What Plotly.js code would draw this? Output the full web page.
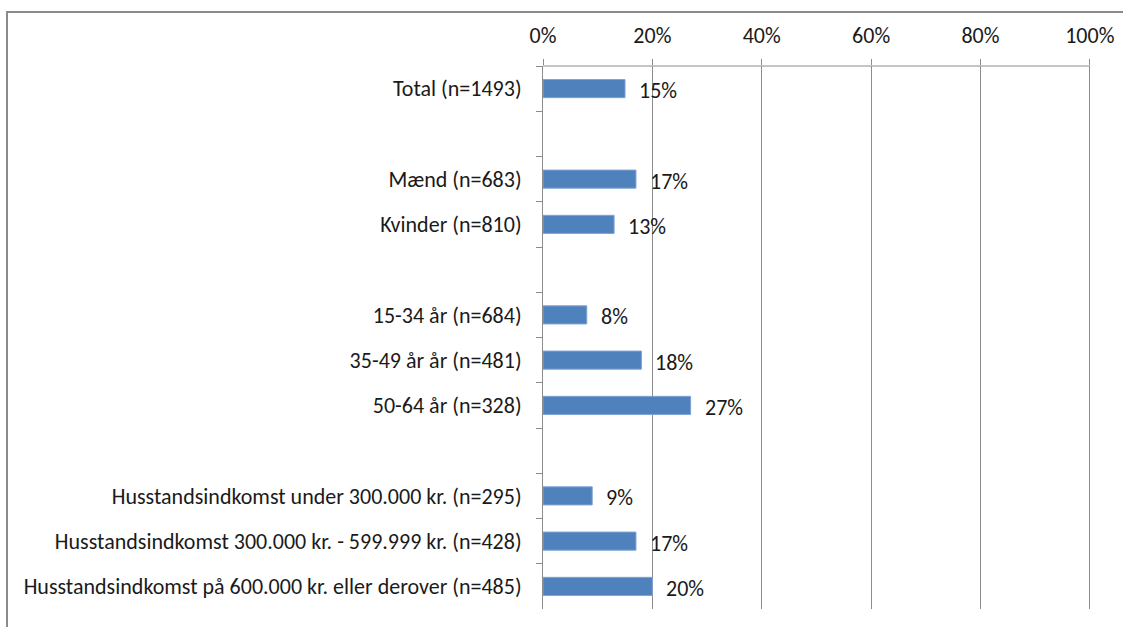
<!DOCTYPE html>
<html>
<head>
<meta charset="utf-8">
<script src="https://cdn.plot.ly/plotly-3.0.1.min.js"></script>
<style>
  html, body { margin: 0; padding: 0; background: #fff; }
  #wrap { position: relative; width: 1123px; height: 627px; overflow: hidden; }
  #chart { position: absolute; left: 0; top: 0; width: 1123px; height: 627px; }
  #frame { position: absolute; left: 6px; top: 11px; width: 1130px; height: 640px;
           border-left: 2px solid #8a8a8a; border-top: 2px solid #8a8a8a; pointer-events: none; }
</style>
</head>
<body>
<div id="wrap">
  <div id="chart"></div>
  <div id="frame"></div>
</div>
<script>
// Categories top to bottom (blank strings are spacer rows)
const categories = [
  "Total (n=1493)",
  " ",
  "Mænd (n=683)",
  "Kvinder (n=810)",
  "  ",
  "15-34 år (n=684)",
  "35-49 år år (n=481)",
  "50-64 år (n=328)",
  "   ",
  "Husstandsindkomst under 300.000 kr. (n=295)",
  "Husstandsindkomst 300.000 kr. - 599.999 kr. (n=428)",
  "Husstandsindkomst på 600.000 kr. eller derover (n=485)"
];
const values = [0.15, null, 0.17, 0.13, null, 0.08, 0.18, 0.27, null, 0.09, 0.17, 0.20];
const labels = ["15%", "", "17%", "13%", "", "8%", "18%", "27%", "", "9%", "17%", "20%"];
const xTickVals = [0, 0.2, 0.4, 0.6, 0.8, 1.0];
const xTickText = ["0%", "20%", "40%", "60%", "80%", "100%"];

const FONT = "Carlito, Lato, sans-serif";
const GRID = "#8c8c8c";
const FS = 22;

const annotations = [];
categories.forEach((c, i) => {
  if (values[i] !== null) {
    annotations.push({
      x: values[i], y: c, xref: "x", yref: "y",
      text: labels[i], showarrow: false,
      xanchor: "left", yanchor: "middle", xshift: 12, yshift: -2,
      font: { family: FONT, size: FS, color: "#1a1a1a" }
    });
  }
});

const trace = {
  type: "bar",
  orientation: "h",
  y: categories,
  x: values,
  marker: { color: "#4F81BD", line: { color: "#7ea3d3", width: 1 } },
  hoverinfo: "skip"
};

const layout = {
  width: 1123, height: 627,
  margin: { l: 543, r: 31, t: 66, b: 18, pad: 0 },
  paper_bgcolor: "#ffffff",
  plot_bgcolor: "#ffffff",
  showlegend: false,
  bargap: 0.6,
  font: { family: FONT, size: FS, color: "#1a1a1a" },
  xaxis: {
    side: "top",
    range: [0, 1.004],
    tickvals: xTickVals,
    ticktext: xTickText,
    showgrid: true, gridcolor: GRID, gridwidth: 1,
    showline: false,
    ticks: "outside", ticklen: 6, tickcolor: GRID, tickwidth: 1,
    ticklabelstandoff: 7,
    zeroline: false,
    tickfont: { family: FONT, size: FS, color: "#1a1a1a" },
    fixedrange: true
  },
  yaxis: {
    type: "category",
    categoryorder: "array",
    categoryarray: categories,
    autorange: "reversed",
    showgrid: false,
    showline: true, linecolor: GRID, linewidth: 1,
    ticks: "outside", tickson: "boundaries", ticklen: 6, tickcolor: GRID, tickwidth: 1,
    ticklabelstandoff: 16,
    tickfont: { family: FONT, size: FS, color: "#1a1a1a" },
    zeroline: false,
    fixedrange: true
  },
  shapes: [{
    type: "line", xref: "x", yref: "paper",
    x0: 0, x1: 1, y0: 1, y1: 1,
    line: { color: GRID, width: 1 }
  }],
  annotations: annotations
};

Plotly.newPlot("chart", [trace], layout, { staticPlot: true, displayModeBar: false });
</script>
</body>
</html>
